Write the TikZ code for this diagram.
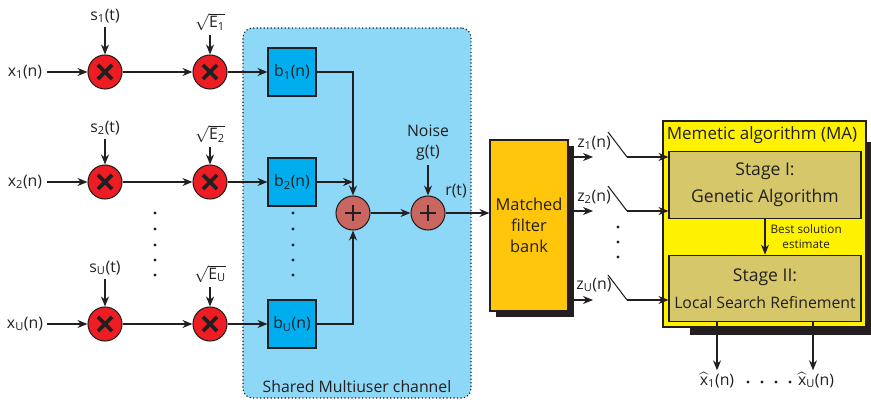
\documentclass[tikz,border=0pt]{standalone}
\usepackage{amsmath}
\usepackage{fontspec}
\setmainfont{Open Sans}
\usetikzlibrary{arrows.meta,positioning}
\definecolor{mulred}{HTML}{EE1D23}
\definecolor{sumred}{HTML}{C8665F}
\definecolor{bblue}{HTML}{00AEEF}
\definecolor{chanblue}{HTML}{8DD7F7}
\definecolor{mforange}{HTML}{FFC60B}
\definecolor{mayellow}{HTML}{FFF200}
\definecolor{stagekhaki}{HTML}{D6C86A}
\definecolor{inkgray}{HTML}{231F20}

\begin{document}
\begin{tikzpicture}[x=0.03cm,y=-0.03cm,>={Stealth[length=3mm,width=2.4mm]},line width=0.9pt,
  font=\fontsize{13.5}{16}\selectfont,draw=inkgray,text=inkgray,
  mulnode/.style={circle,draw,fill=mulred,minimum size=1.02cm,inner sep=0pt,
    path picture={\draw[line width=3.2pt]
      ([shift={(-6pt,-6pt)}]path picture bounding box.center) -- ([shift={(6pt,6pt)}]path picture bounding box.center)
      ([shift={(-6pt,6pt)}]path picture bounding box.center) -- ([shift={(6pt,-6pt)}]path picture bounding box.center);}},
  sumnode/.style={circle,draw,fill=sumred,minimum size=1.02cm,inner sep=0pt,
    path picture={\draw[line width=1.1pt]
      ([xshift=-7pt]path picture bounding box.center) -- ([xshift=7pt]path picture bounding box.center)
      ([yshift=-7pt]path picture bounding box.center) -- ([yshift=7pt]path picture bounding box.center);}},
  bbox/.style={draw,fill=bblue,minimum size=1.44cm,inner sep=0pt},
  stagebox/.style={draw,fill=stagekhaki,minimum width=5.76cm,minimum height=2cm,inner sep=0pt,
    align=center,font=\fontsize{15}{23}\selectfont},
  dotmark/.style={fill=inkgray,circle,inner sep=0pt,minimum size=2.6pt},
  shadowfill/.style={fill=inkgray}]

\useasboundingbox (0,0) rectangle (871,403);

% shared channel
\node[draw,dotted,line width=1pt,rounded corners=8pt,fill=chanblue,minimum width=6.84cm,minimum height=11.1cm] (chan) at (357,213) {};
\node[above=1pt of chan.south] (chanlabel) {Shared Multiuser channel};

% user branches
\foreach \u/\yy/\ys in {1/72/16,2/182/128,U/324/268}{
  \node (inX\u) at (25,\yy) {x\textsubscript{\u}(n)};
  \node[mulnode] (mulS\u) at (105,\yy) {};
  \node[mulnode] (mulE\u) at (210,\yy) {};
  \node (sig\u) at (105,\ys) {s\textsubscript{\u}(t)};
  \node (eng\u) at (210,\ys+6) {$\sqrt{\text{E}_{\text{\u}}}$};
  \node[bbox] (chB\u) at (292,\yy) {b\textsubscript{\u}(n)};
  \draw[->] (inX\u) -- (mulS\u);
  \draw[->] (mulS\u) -- (mulE\u);
  \draw[->] (mulE\u) -- (chB\u);
  \draw[->] (sig\u) -- (mulS\u);
  \draw[->] (eng\u) -- (mulE\u);
}
\foreach \yy in {213,229,245,260,275}{
  \node[dotmark] at (155,\yy) {};
  \node[dotmark] at (293,\yy) {};
}

% summing
\node[sumnode] (sum1) at (353,213) {};
\node[sumnode] (sum2) at (428,213) {};
\node[align=center,font=\fontsize{13.5}{17}\selectfont] (noise) at (428,143) {Noise\\g(t)};
\draw[->] (chB1) -| (sum1);
\draw[->] (chB2) -- (chB2 -| sum1);
\draw[->] (chBU) -| (sum1);
\draw[->] (sum1) -- (sum2);
\draw[->] (noise) -- (sum2);

% matched filter bank
\fill[shadowfill] (568,146) rectangle (574,317);
\fill[shadowfill] (496,311) rectangle (574,317);
\node[draw,fill=mforange,minimum width=2.34cm,minimum height=5.13cm,align=center,
  font=\fontsize{14}{18}\selectfont] (mf) at (529,225.5) {Matched\\filter\\bank};
\node (rlabel) at (456,191) {r(t)};
\draw[->] (sum2) -- (sum2 -| mf.west);

% memetic algorithm
\fill[shadowfill] (866,142) rectangle (871,335);
\fill[shadowfill] (690,327) rectangle (871,335);
\node[draw,fill=mayellow,minimum width=6.09cm,minimum height=6.18cm,inner sep=0pt] (ma) at (764.5,224) {};
\node[anchor=west,inner sep=2pt,font=\fontsize{14.5}{18}\selectfont] (matitle) at (664,135) {Memetic algorithm (MA)};
\node[stagebox] (st1) at (765,185) {Stage I:\\Genetic Algorithm};
\node[stagebox,font=\fontsize{13.5}{23}\selectfont] (st2) at (765,288.5) {{\fontsize{15}{23}\selectfont Stage II:}\\Local Search Refinement};
\draw[->] (st1) -- node[right=1pt,align=center,font=\fontsize{10}{12.5}\selectfont] (bestlabel) {Best solution\\estimate} (st2);

% matched filter outputs and switches
\foreach \z/\yy/\ty/\st in {1/157/143/st1,2/211/197/st1,U/300/285/st2}{
  \coordinate (zEnd\z) at (593,\yy);
  \coordinate (swTop\z) at (608,\yy-25);
  \coordinate (swBot\z) at (627,\yy);
  \node (zlab\z) at (594,\ty) {z\textsubscript{\z}(n)};
  \draw[->] (zEnd\z -| mf.east) -- (zEnd\z);
  \draw (swTop\z) -- (swBot\z);
  \draw[->] (swBot\z) -- (swBot\z -| \st.west);
}
\foreach \yy in {227,242,257}{
  \node[dotmark] at (618,\yy) {};
}

% estimates
\node[inner sep=1pt] (est1) at (717,380) {$\widehat{\text{x}}_{\text{1}}$(n)};
\node[inner sep=1pt] (estU) at (816,380) {$\widehat{\text{x}}_{\text{U}}$(n)};
\coordinate (outA) at (717,0);
\coordinate (outB) at (813,0);
\draw[->] (outA |- st2.south) -- (outA |- est1.north);
\draw[->] (outB |- st2.south) -- (outB |- estU.north);
\foreach \xx in {748,762,776,790}{
  \node[dotmark] at (\xx,382) {};
}
\end{tikzpicture}
\end{document}
